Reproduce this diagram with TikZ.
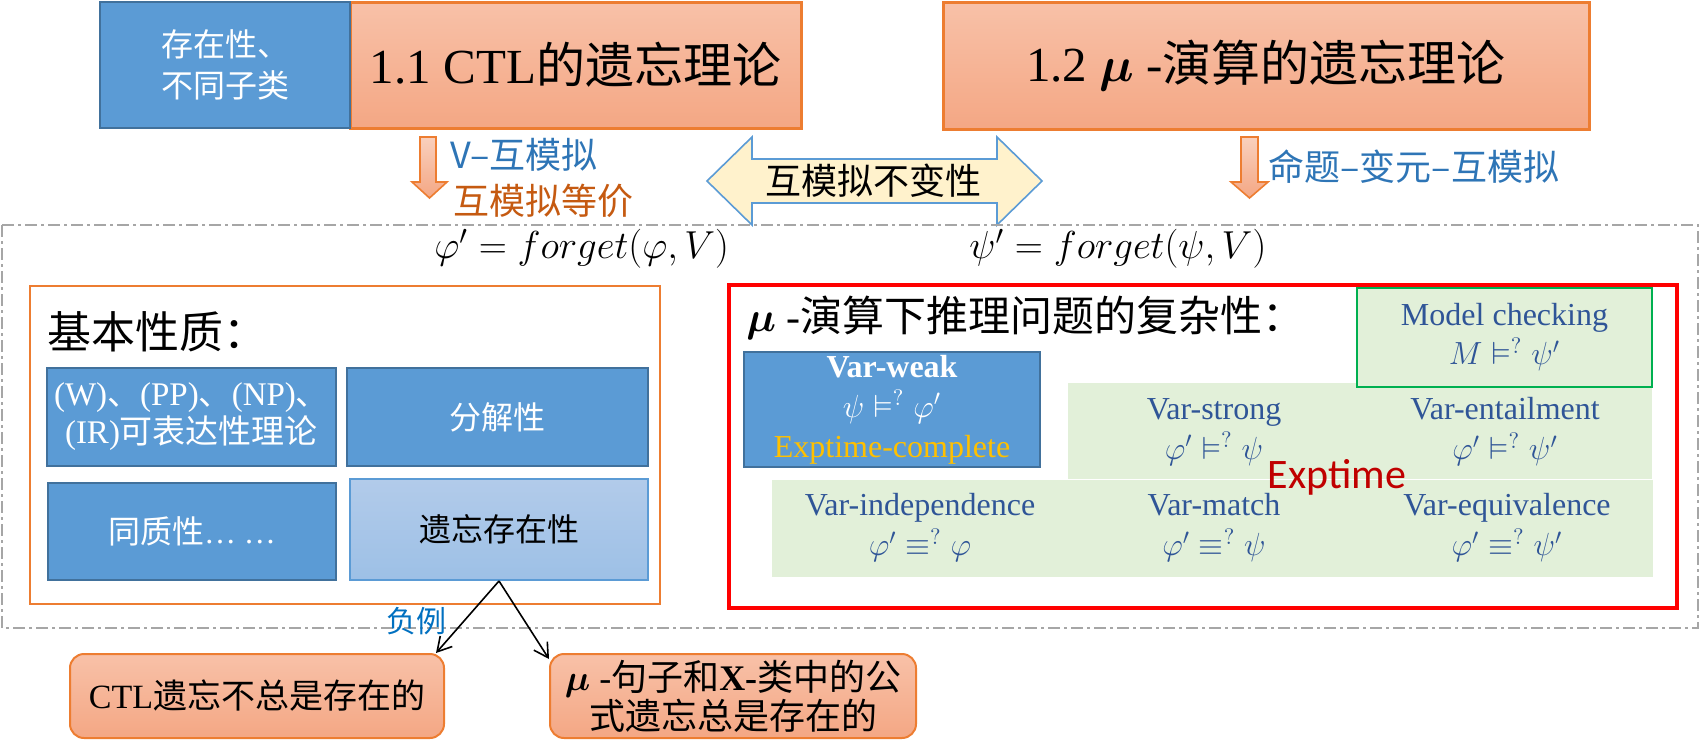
\RequirePackage{fix-cm}
\documentclass[tikz,border=0pt]{standalone}
\usepackage{amsmath,amssymb,bm}
\usepackage{fontspec}
\setmainfont{Liberation Serif}
\newfontfamily\cjk{Noto Sans CJK SC}
\newfontfamily\calibri{Carlito}
\usetikzlibrary{arrows.meta}

\definecolor{orangeline}{HTML}{ED7D31}
\definecolor{orangetop}{HTML}{F8C1A8}
\definecolor{orangebot}{HTML}{F4A784}
\definecolor{arrowtop}{HTML}{F9D0BD}
\definecolor{bluefill}{HTML}{5B9BD5}
\definecolor{blueline}{HTML}{41719C}
\definecolor{lighttop}{HTML}{B2CBEA}
\definecolor{lightbot}{HTML}{9DC0E6}
\definecolor{arrowfill}{HTML}{FFF2CC}
\definecolor{labelblue}{HTML}{2E75B6}
\definecolor{labelorange}{HTML}{C55A11}
\definecolor{negblue}{HTML}{0070C0}
\definecolor{vartextblue}{HTML}{2F5597}
\definecolor{greenfill}{HTML}{E2F0D9}
\definecolor{greenline}{HTML}{00B050}
\definecolor{exptimered}{HTML}{C00000}
\definecolor{exptimeyellow}{HTML}{FFC000}
\definecolor{dashgray}{HTML}{A6A6A6}

\tikzset{
    every node/.style={inner sep=0pt, align=center}
}
\tikzset{
    bluebox/.style={rectangle, draw=blueline, line width=1pt, fill=bluefill, text=white},
    lightbox/.style={rectangle, draw=bluefill, line width=1pt, top color=lighttop, bottom color=lightbot},
    titlebox/.style={rectangle, draw=orangeline, line width=1.5pt, top color=orangetop, bottom color=orangebot},
    roundbox/.style={titlebox, rounded corners=7pt, line width=1pt},
    blockarrow/.style={draw=orangeline, line width=0.8pt, top color=arrowtop, bottom color=orangebot},
    vartext/.style={text=vartextblue, font=\fontsize{16}{20}\selectfont}
}

\begin{document}
\begin{tikzpicture}[x=0.5pt, y=-0.5pt]
    \useasboundingbox (0,0) rectangle (1701,739);

    % top row
    \node (ctl) [titlebox, minimum width=225.5pt, minimum height=63pt, font=\fontsize{24.5}{28}\selectfont] at (575.5,65) {1.1 CTL{\cjk 的遗忘理论}};
    \node (exists) [bluebox, minimum width=125pt, minimum height=63pt, font=\cjk\fontsize{16}{20.5}\selectfont] at (225,65) {存在性、\\不同子类};
    \node (mucalc) [titlebox, minimum width=323pt, minimum height=63.5pt, font=\fontsize{24.5}{28}\selectfont] at (1266,65.5) {1.2 $\bm{\mu}$ -{\cjk 演算的遗忘理论}};

    \draw[blockarrow] (420,137) -- (436,137) -- (436,182) -- (447,182) -- (429.5,198) -- (412,182) -- (420,182) -- cycle;
    \draw[blockarrow] (1241,137) -- (1258,137) -- (1258,182) -- (1268,182) -- (1249.5,198) -- (1231,182) -- (1241,182) -- cycle;
    \draw[draw=bluefill, line width=0.8pt, fill=arrowfill] (707,181) -- (752,137) -- (752,159) -- (997,159) -- (997,137) -- (1042,181)
        -- (997,225) -- (997,203) -- (752,203) -- (752,225) -- cycle;

    \node (vbisim) [anchor=west, text=labelblue, font=\cjk\fontsize{18}{22}\selectfont] at (450,155) {V–互模拟};
    \node (bisimeq) [anchor=west, text=labelorange, font=\cjk\fontsize{18}{22}\selectfont] at (453,201) {互模拟等价};
    \node (propbisim) [anchor=west, text=labelblue, font=\cjk\fontsize{18}{22}\selectfont] at (1268,167) {命题–变元–互模拟};
    \node (invar) [font=\cjk\fontsize{18}{22}\selectfont] at (873,181) {互模拟不变性};

    % dashed frame
    \draw[dashgray, line width=1pt, dash pattern=on 6pt off 2pt on 1.5pt off 2pt] (2,225) rectangle (1698,628);
    \node (phiforget) [anchor=west, font=\fontsize{19.5}{23}\selectfont] at (434,249) {$\varphi' = forget(\varphi,V)$};
    \node (psiforget) [anchor=west, font=\fontsize{19.5}{23}\selectfont] at (969,249) {$\psi' = forget(\psi,V)$};

    % basic properties
    \node (basics) [draw=orangeline, line width=1pt, minimum width=315pt, minimum height=159pt] at (345,445) {};
    \node (basictitle) [anchor=west, font=\cjk\fontsize{22}{26}\selectfont] at (47,332) {基本性质：};
    \node (wexpr) [bluebox, minimum width=144.5pt, minimum height=49pt, font=\fontsize{16.5}{19}\selectfont] at (191.5,417) {(W){\cjk 、}(PP){\cjk 、}(NP){\cjk 、}\\(IR){\cjk 可表达性理论}};
    \node (decomp) [bluebox, minimum width=150.5pt, minimum height=49pt, font=\cjk\fontsize{16}{19}\selectfont] at (497.5,417) {分解性};
    \node (homog) [bluebox, minimum width=144pt, minimum height=48.5pt, font=\fontsize{16}{19}\selectfont] at (192,531.5) {{\cjk 同质性}… …};
    \node (exist) [lightbox, minimum width=149pt, minimum height=50.5pt, font=\cjk\fontsize{16}{19}\selectfont] at (499,529.5) {遗忘存在性};

    % consequences
    \node (negex) [text=negblue, font=\cjk\fontsize{15}{18}\selectfont] at (416,621) {负例};
    \node (ctlneg) [roundbox, minimum width=187pt, minimum height=42pt, font=\fontsize{17}{20}\selectfont] at (257,696) {CTL{\cjk 遗忘不总是存在的}};
    \node (mupos) [roundbox, minimum width=183pt, minimum height=42pt, font=\fontsize{18}{19.5}\selectfont] at (733,696) {$\bm{\mu}$ -{\cjk 句子和}\textbf{X-}{\cjk 类中的公}\\{\cjk 式遗忘总是存在的}};
    \draw[-{Straight Barb[length=7pt, width=8pt]}, line width=0.8pt] (exist.south) -- ([xshift=-4.5pt]ctlneg.north east);
    \draw[-{Straight Barb[length=7pt, width=8pt]}, line width=0.8pt] (exist.south) -- ([yshift=-3pt]mupos.north west);

    % complexity
    \fill[greenfill] (1068,383) rectangle (1652,479);
    \fill[greenfill] (772,480) rectangle (1653,577);
    \node (complex) [draw=red, line width=2pt, minimum width=474pt, minimum height=161.5pt] at (1203,446.5) {};
    \node (cplxtitle) [anchor=west, font=\fontsize{21}{25}\selectfont] at (746,318) {$\bm{\mu}$ -{\cjk 演算下推理问题的复杂性：}};
    \node (modelchk) [draw=greenline, line width=1.3pt, fill=greenfill, minimum width=147.5pt, minimum height=49.5pt, vartext, font=\fontsize{16}{19.5}\selectfont] at (1504.5,337.5) {Model checking\\$M \vDash^{?} \psi'$};
    \node (varweak) [bluebox, minimum width=148pt, minimum height=57.5pt, font=\fontsize{16}{20}\selectfont] at (892,409.5) {\textbf{Var-weak}\\$\psi \vDash^{?} \varphi'$\\\textcolor{exptimeyellow}{Exptime-complete}};
    \node (varstrong) [vartext] at (1214,432) {Var-strong\\$\varphi' \vDash^{?} \psi$};
    \node (varentail) [vartext] at (1505,432) {Var-entailment\\$\varphi' \vDash^{?} \psi'$};
    \node (varindep) [vartext] at (920,528) {Var-independence\\$\varphi' \equiv^{?} \varphi$};
    \node (varmatch) [vartext] at (1214,528) {Var-match\\$\varphi' \equiv^{?} \psi$};
    \node (varequiv) [vartext] at (1507,528) {Var-equivalence\\$\varphi' \equiv^{?} \psi'$};
    \node (exptime) [text=exptimered, font=\calibri\fontsize{21}{24}\selectfont] at (1337,477) {Exptime};
\end{tikzpicture}
\end{document}
